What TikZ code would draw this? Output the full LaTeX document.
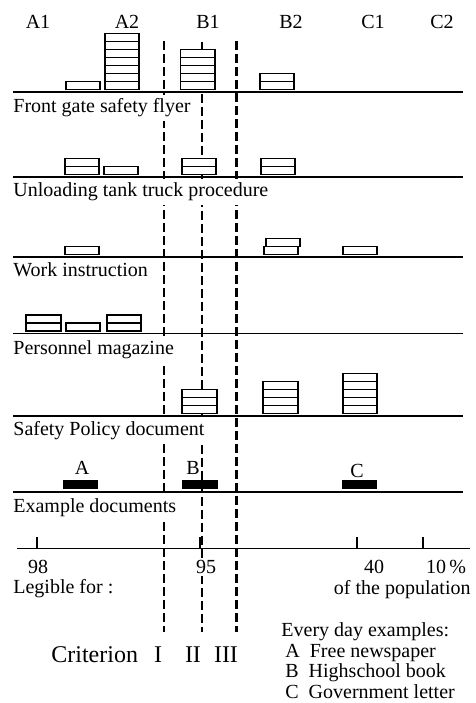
\documentclass[tikz,border=0pt]{standalone}
\usepackage{fontspec}
\setmainfont{Liberation Serif}
\usepackage{tikz}

% stack of #4 cells, x from #1 to #2, bottom at #3
\newcommand{\cellstack}[4]{%
  \foreach \k in {1,...,#4}{%
    \draw[cell] (#1,{#3-8*(\k-1)}) rectangle (#2,{#3-8*\k});}}

\begin{document}
\begin{tikzpicture}[x=0.5pt,y=-0.5pt,
    crit/.style={line width=1.1pt,dash pattern=on 4.5pt off 2pt},
    rowline/.style={line width=0.6pt},
    cell/.style={draw,fill=white,line width=0.55pt},
    lbl/.style={anchor=west,fill=white,inner xsep=1pt,inner ysep=2pt,font=\fontsize{10}{12}\selectfont},
    txt/.style={inner sep=1pt,font=\fontsize{10}{12}\selectfont}]
    \useasboundingbox (0,0) rectangle (476,703);

    % criterion lines
    \draw[crit] (164,41) -- (164,632);
    \draw[crit] (202,42) -- (202,632);
    \draw[crit] (236.5,41) -- (236.5,632);

    % column heads
    \node[txt] (hA1) at (38,22) {A1};
    \node[txt] (hA2) at (127,22) {A2};
    \node[txt] (hB1) at (208,22) {B1};
    \node[txt] (hB2) at (291,22) {B2};
    \node[txt] (hC1) at (373,22) {C1};
    \node[txt] (hC2) at (442,22) {C2};

    % Front gate safety flyer
    \draw[rowline] (13,92) -- (463,92);
    \cellstack{66}{100}{89.5}{1}
    \cellstack{105}{139}{89.5}{7}
    \cellstack{180.5}{215}{89.5}{5}
    \cellstack{260}{294}{89.5}{2}
    \node[lbl] (doc1) at (11,108) {Front gate safety flyer};

    % Unloading tank truck procedure
    \draw[rowline] (13,177) -- (463,177);
    \cellstack{65}{99}{174.5}{2}
    \cellstack{104}{138}{174.5}{1}
    \cellstack{182}{216}{174.5}{2}
    \cellstack{261}{295}{174.5}{2}
    \node[lbl] (doc2) at (11,192) {Unloading tank truck procedure};

    % Work instruction
    \draw[rowline] (13,257) -- (463,257);
    \cellstack{65}{99}{254.5}{1}
    \cellstack{264}{298}{254.5}{1}
    \cellstack{266}{300}{246.5}{1}
    \cellstack{343}{377}{254.5}{1}
    \node[lbl] (doc3) at (11,270) {Work instruction};

    % Personnel magazine
    \draw[rowline] (13,333.5) -- (463,333.5);
    \cellstack{26}{61}{331}{2}
    \cellstack{66}{100}{331}{1}
    \cellstack{107}{141}{331}{2}
    \node[lbl] (doc4) at (11,350) {Personnel magazine};

    % Safety Policy document
    \draw[rowline] (13,416) -- (463,416);
    \cellstack{182}{217}{413.5}{3}
    \cellstack{263}{298}{413.5}{4}
    \cellstack{343}{377}{413.5}{5}
    \node[lbl] (doc5) at (11,431) {Safety Policy document};

    % Example documents
    \draw[rowline] (13,492) -- (463,492);
    \fill (63,479.5) rectangle (98,488.5);
    \fill (182,479.5) rectangle (218,488.5);
    \fill (342,479.5) rectangle (377,488.5);
    \node[txt] (exA) at (82,468) {A};
    \node[txt] (exB) at (193,468) {B};
    \node[txt] (exC) at (357,471) {C};
    \node[lbl] (doc6) at (11,508) {Example documents};

    % population scale
    \draw[rowline] (17,548.5) -- (470,548.5);
    \draw[rowline] (37,537) -- (37,548.5);
    \draw[rowline] (200,537) -- (200,548.5);
    \draw[rowline] (357,537) -- (357,548.5);
    \draw[rowline] (423,537) -- (423,548.5);
    \node[txt] (p98) at (38,567) {98};
    \node[txt,fill=white] (p95) at (206,567) {95};
    \node[txt] (p40) at (374,567) {40};
    \node[txt] (p10) at (446,567) {10\,\%};
    \node[txt,anchor=west] (legible) at (11,589) {Legible for :};
    \node[txt,anchor=east] (popul) at (473,590) {of the population};

    % criteria
    \node[inner sep=1pt,anchor=west,font=\fontsize{12}{14}\selectfont] (crit) at (49,655) {Criterion};
    \node[inner sep=1pt,font=\fontsize{12}{14}\selectfont] (cI) at (158,655) {I};
    \node[inner sep=1pt,font=\fontsize{12}{14}\selectfont] (cII) at (193,655) {II};
    \node[inner sep=1pt,font=\fontsize{12}{14}\selectfont] (cIII) at (226,655) {III};

    % every day examples
    \node[txt,anchor=west] (leg) at (279,632) {Every day examples:};
    \node[txt,anchor=west] (legA) at (283,653) {A\enspace Free newspaper};
    \node[txt,anchor=west] (legB) at (283,673) {B\enspace Highschool book};
    \node[txt,anchor=west] (legC) at (283,692) {C\enspace Government letter};
\end{tikzpicture}
\end{document}
